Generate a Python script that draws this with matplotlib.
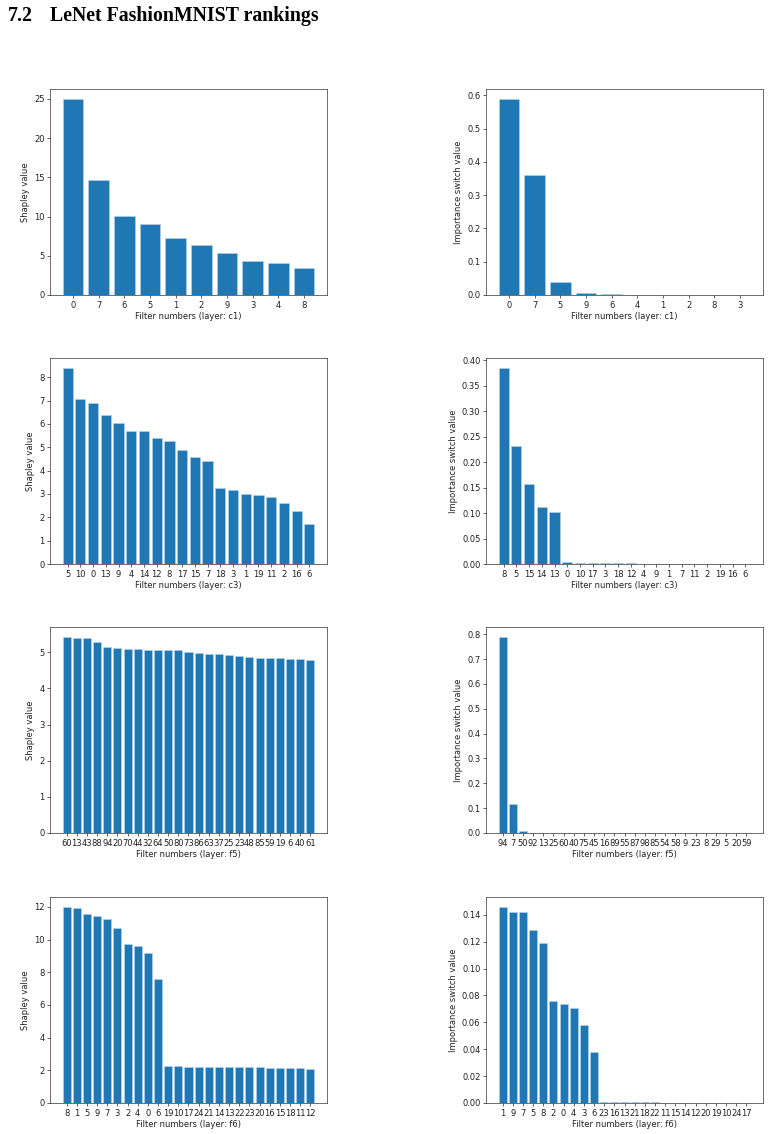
import matplotlib
matplotlib.use("Agg")
import matplotlib.pyplot as plt

W, H = 770, 1134

c1_shap_labels = ["0", "7", "6", "5", "1", "2", "9", "3", "4", "8"]
c1_shap_values = [25.0, 14.7, 10.1, 9.05, 7.25, 6.4, 5.35, 4.35, 4.05, 3.4]

c1_sw_labels = ["0", "7", "5", "9", "6", "4", "1", "2", "8", "3"]
c1_sw_values = [0.59, 0.36, 0.039, 0.007, 0.002, 0.0005, 0.0003, 0.0002, 0.0001, 0.0001]

c3_shap_labels = ["5", "10", "0", "13", "9", "4", "14", "12", "8", "17",
                  "15", "7", "18", "3", "1", "19", "11", "2", "16", "6"]
c3_shap_values = [8.4, 7.05, 6.9, 6.4, 6.05, 5.7, 5.68, 5.4, 5.25, 4.87,
                  4.57, 4.42, 3.25, 3.18, 3.0, 2.96, 2.88, 2.62, 2.28, 1.7]

c3_sw_labels = ["8", "5", "15", "14", "13", "0", "10", "17", "3", "18",
                "12", "4", "9", "1", "7", "11", "2", "19", "16", "6"]
c3_sw_values = [0.385, 0.232, 0.157, 0.111, 0.103, 0.003, 0.002, 0.002, 0.002, 0.002,
                0.002, 0.0005, 0.0004, 0.0003, 0.0003, 0.0002, 0.0002, 0.0001, 0.0001, 0.0001]

f5_shap_labels = ["60", "13", "43", "88", "94", "20", "70", "44", "32", "64",
                  "50", "80", "73", "86", "63", "37", "25", "23", "48", "85",
                  "59", "19", "6", "40", "61"]
f5_shap_values = [5.43, 5.40, 5.39, 5.30, 5.15, 5.12, 5.10, 5.10, 5.07, 5.06,
                  5.06, 5.06, 5.00, 4.98, 4.95, 4.95, 4.93, 4.91, 4.87, 4.84,
                  4.84, 4.84, 4.82, 4.82, 4.80]

f5_sw_labels = ["94", "7", "50", "92", "13", "25", "60", "40", "75", "45",
                "16", "89", "55", "87", "98", "85", "54", "58", "9", "23",
                "8", "29", "5", "20", "59"]
f5_sw_values = [0.79, 0.115, 0.008, 0.001, 0.0008, 0.0006, 0.0005, 0.0004, 0.0004, 0.0003,
                0.0003, 0.0003, 0.0002, 0.0002, 0.0002, 0.0002, 0.0001, 0.0001, 0.0001, 0.0001,
                0.0001, 0.0001, 0.0001, 0.0001, 0.0001]

f6_shap_labels = ["8", "1", "5", "9", "7", "3", "2", "4", "0", "6",
                  "19", "10", "17", "24", "21", "14", "13", "22", "23", "20",
                  "16", "15", "18", "11", "12"]
f6_shap_values = [12.0, 11.9, 11.58, 11.44, 11.28, 10.69, 9.74, 9.6, 9.17, 7.59,
                  2.29, 2.25, 2.21, 2.18, 2.18, 2.18, 2.18, 2.18, 2.18, 2.18,
                  2.15, 2.15, 2.15, 2.15, 2.08]

f6_sw_labels = ["1", "9", "7", "5", "8", "2", "0", "4", "3", "6",
                "23", "16", "13", "21", "18", "22", "11", "15", "14", "12",
                "20", "19", "10", "24", "17"]
f6_sw_values = [0.146, 0.142, 0.142, 0.129, 0.119, 0.076, 0.074, 0.071, 0.058, 0.038,
                0.0006, 0.0005, 0.0005, 0.0004, 0.0004, 0.0004, 0.0003, 0.0003, 0.0003, 0.0003,
                0.0002, 0.0002, 0.0002, 0.0002, 0.0002]

layers = ["c1", "c3", "f5", "f6"]
panels = [
    (c1_shap_labels, c1_shap_values, c1_sw_labels, c1_sw_values),
    (c3_shap_labels, c3_shap_values, c3_sw_labels, c3_sw_values),
    (f5_shap_labels, f5_shap_values, f5_sw_labels, f5_sw_values),
    (f6_shap_labels, f6_shap_values, f6_sw_labels, f6_sw_values),
]

fig = plt.figure(figsize=(W / 100, H / 100), dpi=100)
fig.text(8 / W, 1 - 21 / H, "7.2", fontsize=14.3, fontweight="bold",
         family="Liberation Serif", va="baseline", ha="left")
fig.text(50 / W, 1 - 21 / H, "LeNet FashionMNIST rankings", fontsize=14.3,
         fontweight="bold", family="Liberation Serif", va="baseline", ha="left")

row_tops = [89, 358, 627, 897]
ax_h = 206
col_lefts = [50, 486]
ax_w = 277
fs = 6.0
blue = "#1f77b4"


def make(ax, labels, values, layer, ylabel):
    x = list(range(len(labels)))
    ax.bar(x, values, width=0.8, color=blue, edgecolor="#b9d4ea", linewidth=0.4)
    ax.set_xticks(x)
    ax.set_xticklabels(labels)
    ax.tick_params(labelsize=fs, length=2, width=0.5, pad=2, colors="#222222")
    ax.set_xlabel("Filter numbers (layer: %s)" % layer, fontsize=fs, labelpad=2,
                  color="#222222")
    ax.set_ylabel(ylabel, fontsize=fs, labelpad=3, color="#222222")
    for s in ax.spines.values():
        s.set_linewidth(0.5)
        s.set_color("#333333")


for r, (l1, v1, l2, v2) in enumerate(panels):
    top = row_tops[r]
    for c in range(2):
        left = col_lefts[c]
        ax = fig.add_axes([left / W, 1 - (top + ax_h) / H, ax_w / W, ax_h / H])
        if c == 0:
            make(ax, l1, v1, layers[r], "Shapley value")
        else:
            make(ax, l2, v2, layers[r], "Importance switch value")

fig.savefig("out.png", dpi=100)
